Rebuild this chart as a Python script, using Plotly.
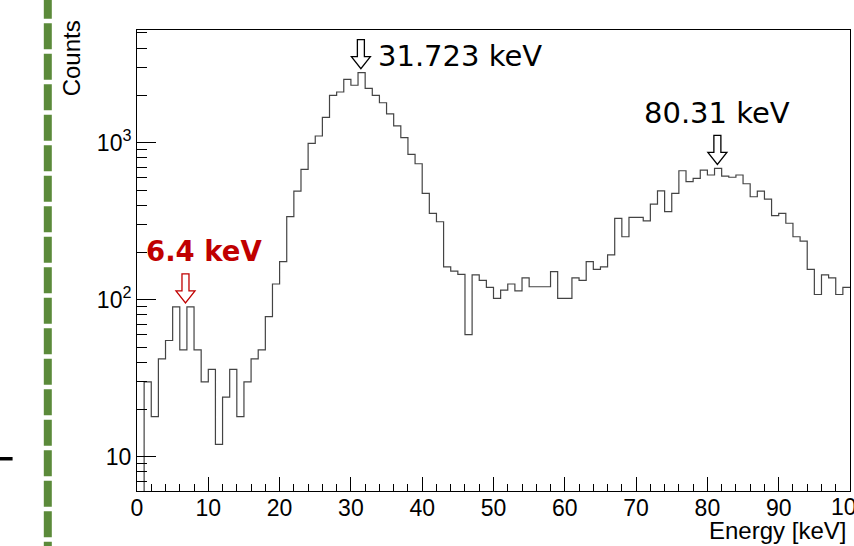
import numpy as np
import plotly.graph_objects as go

# ---- data ----
bin_edges = list(range(0, 101))          # 1 keV bins, 0..100 keV
counts = [0, 30, 18, 42, 55, 90, 48, 90, 48, 30,
          36, 12, 24, 36, 18, 30, 42, 48, 78, 126,
          175, 338, 492, 677, 991, 1104, 1452, 2005, 2104, 2535,
          2324, 2792, 2218, 2005, 1798, 1525, 1282, 1077, 843, 735,
          476, 355, 314, 162, 152, 145, 60, 144, 133, 120,
          102, 115, 126, 114, 138, 121, 121, 121, 151, 102,
          102, 138, 133, 175, 156, 162, 193, 330, 252, 335,
          335, 318, 406, 494, 364, 476, 663, 565, 593, 670,
          623, 687, 613, 603, 623, 548, 453, 492, 438, 343,
          355, 307, 252, 236, 156, 108, 144, 138, 108, 120]

x_ticks = [0, 10, 20, 30, 40, 50, 60, 70, 80, 90, 100]
x_ticktext = ["0", "10", "20", "30", "40", "50", "60", "70", "80", "90", "100"]
y_ticks = [10, 100, 1000]
y_ticktext = ["10", "10<sup>2</sup>", "10<sup>3</sup>"]

peak_labels = ["31.723 keV", "80.31 keV", "6.4 keV"]
peak_arrow_x = [31.4, 81.4, 6.8]       # keV, where each arrow points
peak_bin = [31, 81, 7]                 # bin whose top the arrow sits above
peak_colors = ["#000000", "#000000", "#c00000"]

# ---- figure ----
ymin_log, ymax_log = 0.782, 3.718
floor = 10 ** (ymin_log - 0.1)
y_draw = [c if c > 0 else floor for c in counts]
y_draw = y_draw + [y_draw[-1]]

def ypaper(v):
    return (np.log10(v) - ymin_log) / (ymax_log - ymin_log)

fig = go.Figure()
fig.add_trace(go.Scatter(x=bin_edges, y=y_draw, mode="lines",
                         line=dict(color="#444444", width=1.2, shape="hv"),
                         hoverinfo="skip", showlegend=False))

minor_y = [d * 10 ** k for k in range(0, 4) for d in range(2, 10)]
minor_y = [v for v in minor_y if ymin_log < np.log10(v) < ymax_log]

font_family = "Liberation Sans, Arial, sans-serif"
tickfont = dict(family=font_family, size=23, color="black")
# the last x label is drawn as an annotation so it can run off the page edge (as in ROOT output)
shown_ticktext = x_ticktext[:-1] + [""]
fig.update_layout(
    width=854, height=546,
    margin=dict(l=137, r=4, t=30, b=55),
    paper_bgcolor="white", plot_bgcolor="white",
    xaxis=dict(range=[0, 100], tickmode="array", tickvals=x_ticks, ticktext=shown_ticktext,
               ticks="inside", ticklen=14, tickwidth=1, tickcolor="black",
               minor=dict(ticks="inside", ticklen=7, tickwidth=1, tickcolor="black",
                          tickmode="linear", dtick=2, showgrid=False),
               showline=True, linecolor="black", linewidth=1, mirror=True,
               showgrid=False, zeroline=False, tickfont=tickfont, automargin=False,
               ticklabelstandoff=-4),
    yaxis=dict(type="log", range=[ymin_log, ymax_log], tickmode="array",
               tickvals=y_ticks, ticktext=y_ticktext,
               ticks="inside", ticklen=19, tickwidth=1, tickcolor="black",
               minor=dict(ticks="inside", ticklen=10, tickwidth=1, tickcolor="black",
                          tickmode="array", tickvals=minor_y, showgrid=False),
               showline=True, linecolor="black", linewidth=1, mirror=True,
               showgrid=False, zeroline=False, tickfont=tickfont, automargin=False),
)
fig.add_annotation(text=x_ticktext[-1], xref="x", yref="paper", x=x_ticks[-1], y=0,
                   yshift=-16, xanchor="center", yanchor="middle", showarrow=False,
                   font=tickfont)

# axis titles (ROOT style: right/top aligned)
fig.add_annotation(text="Energy [keV]", xref="paper", yref="paper", x=0.9976, y=-0.085,
                   xanchor="right", yanchor="middle", showarrow=False,
                   font=dict(family=font_family, size=24, color="black"))
fig.add_annotation(text="Counts", xref="paper", yref="paper", x=-0.0914, y=1.025,
                   xanchor="center", yanchor="top", textangle=-90, showarrow=False,
                   font=dict(family=font_family, size=24, color="black"))

# peak arrows (hollow) + labels
arrow_path = "M -3.5,33 L 3.5,33 L 3.5,16 L 9.5,16 L 0,4 L -9.5,16 L -3.5,16 Z"
text_offsets = [(15, 17, "left"), (0, 55, "center"), (19, 56, "center")]
text_sizes = [29, 29, 27.5]
for lab, ax_, b, col, (dx, dy, anc), fs in zip(peak_labels, peak_arrow_x, peak_bin,
                                                peak_colors, text_offsets, text_sizes):
    yp = ypaper(counts[b])
    fig.add_shape(type="path", xref="x", yref="paper", xsizemode="pixel", ysizemode="pixel",
                  xanchor=ax_, yanchor=yp, path=arrow_path,
                  line=dict(color=col, width=1.3), fillcolor="white")
    bold = col != "#000000"
    fig.add_annotation(text=f"<b>{lab}</b>" if bold else lab, xref="x", yref="paper",
                       x=ax_, y=yp, xshift=dx, yshift=dy, xanchor=anc, yanchor="middle",
                       showarrow=False,
                       font=dict(family="DejaVu Sans, sans-serif", size=fs, color=col))

# left-side decorations
fig.add_shape(type="line", xref="paper", yref="paper", x0=-0.1251, x1=-0.1251, y0=1.081, y1=-0.13,
              line=dict(color="#5b8a3a", width=8, dash="26px,4.5px"))
fig.add_shape(type="line", xref="paper", yref="paper", x0=-0.195, x1=-0.1745, y0=0.070, y1=0.070,
              line=dict(color="black", width=3.5))

fig.write_html("out.html")
